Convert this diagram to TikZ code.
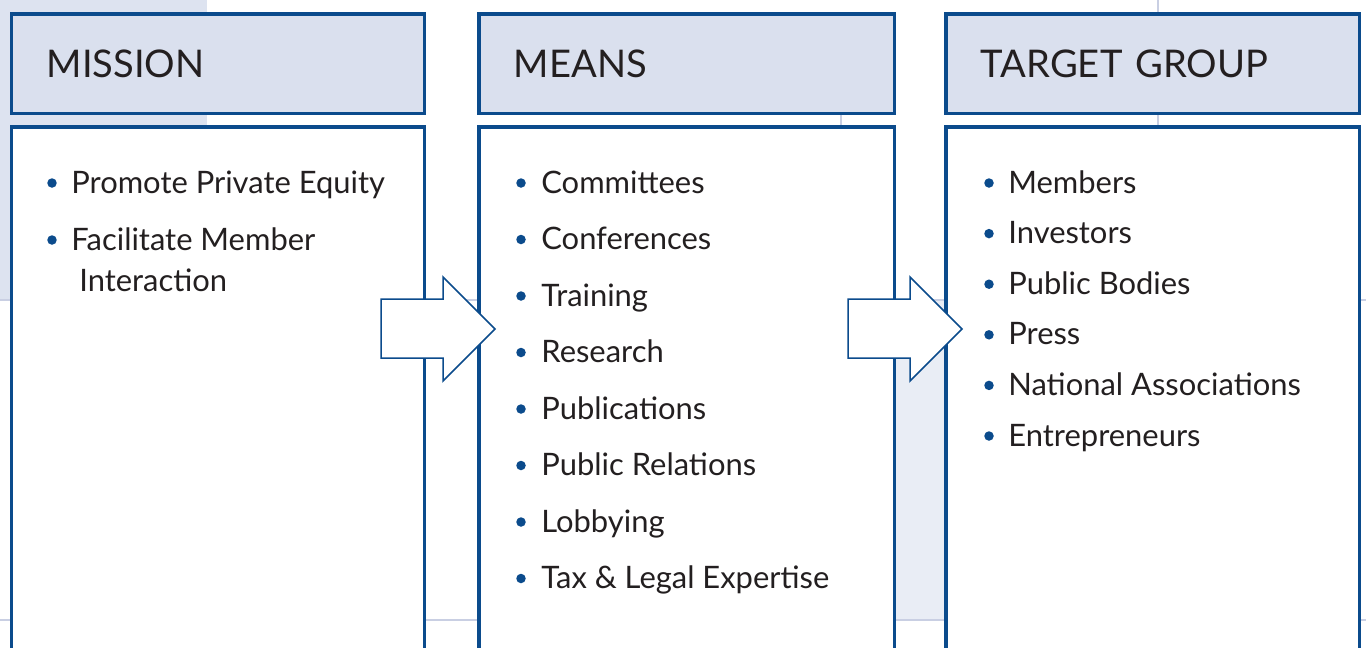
\documentclass[tikz,border=0pt]{standalone}
\usepackage{fontspec}
\setmainfont{Lato}
\definecolor{eblue}{HTML}{0B4B8C}
\definecolor{headfill}{HTML}{DAE0EE}
\definecolor{bgblue}{HTML}{DDE3F0}
\definecolor{bglight}{HTML}{E9EDF5}
\definecolor{bgline}{HTML}{C9CFE3}
\definecolor{textgray}{HTML}{231F20}
\tikzset{
  headbox/.style={draw=eblue,line width=0.07cm,fill=headfill,anchor=north west,
    minimum width=#1,minimum height=2cm,inner xsep=0.7cm,inner ysep=0pt,
    text width=#1-1.4cm,align=left,text=textgray,font=\fontsize{21.7}{26}\selectfont},
  bodybox/.style={draw=eblue,line width=0.07cm,fill=white,anchor=north west,
    minimum width=#1,minimum height=11.8cm},
  item/.style={anchor=base west,inner sep=0pt,text=textgray,font=\fontsize{17.6}{21}\selectfont},
  blockarrow/.style={draw=eblue,line width=0.03cm,fill=white},
}
\begin{document}
\begin{tikzpicture}[x=0.02cm,y=-0.02cm]
  \useasboundingbox (0,0) rectangle (1366,647);
  \clip (0,0) rectangle (1366,647);
  % background
  \fill[bgblue] (0,0) rectangle (207,300);
  \fill[bglight] (893,300) rectangle (944,620);
  \draw[bgline,line width=0.04cm] (0,300) -- (1366,300);
  \draw[bgline,line width=0.04cm] (0,620) -- (1366,620);
  \draw[bgline,line width=0.04cm] (841,12) -- (841,647);
  \draw[bgline,line width=0.04cm] (1158,0) -- (1158,647);
  % headers
  \node[headbox=8.26cm] (mishead) at (10,12) {MISSION};
  \node[headbox=8.32cm] (meanhead) at (477,12) {MEANS};
  \node[headbox=8.28cm] (targhead) at (944,12) {TARGET GROUP};
  % bodies
  \node[bodybox=8.26cm] (misbody) at (10,125) {};
  \node[bodybox=8.32cm] (meanbody) at (477,125) {};
  \node[bodybox=8.28cm] (targbody) at (944,125) {};
  % mission items
  \fill[eblue] (52,183) circle (0.095cm);
  \node[item] (mis1) at (71,193) {Promote Private Equity};
  \fill[eblue] (52,240) circle (0.095cm);
  \node[item] (mis2) at (71,250) {Facilitate Member};
  \node[item] (mis3) at (79,291) {Interaction};
  % means items
  \foreach \t [count=\i] in {Committees,Conferences,Training,Research,Publications,
      Public Relations,Lobbying,Tax \& Legal Expertise}{
    \fill[eblue] (521,126.5+56.5*\i) circle (0.095cm);
    \node[item] (mean\i) at (541,136.5+56.5*\i) {\t};
  }
  % target items
  \foreach \t [count=\i] in {Members,Investors,Public Bodies,Press,
      National Associations,Entrepreneurs}{
    \fill[eblue] (989,132.4+50.6*\i) circle (0.095cm);
    \node[item] (targ\i) at (1008,142.4+50.6*\i) {\t};
  }
  % arrows
  \foreach \dx in {0,467}{
    \draw[blockarrow] (381+\dx,299) -- (443+\dx,299) -- (443+\dx,277) -- (495+\dx,329)
      -- (443+\dx,381) -- (443+\dx,358) -- (381+\dx,358) -- cycle;
  }
\end{tikzpicture}
\end{document}
